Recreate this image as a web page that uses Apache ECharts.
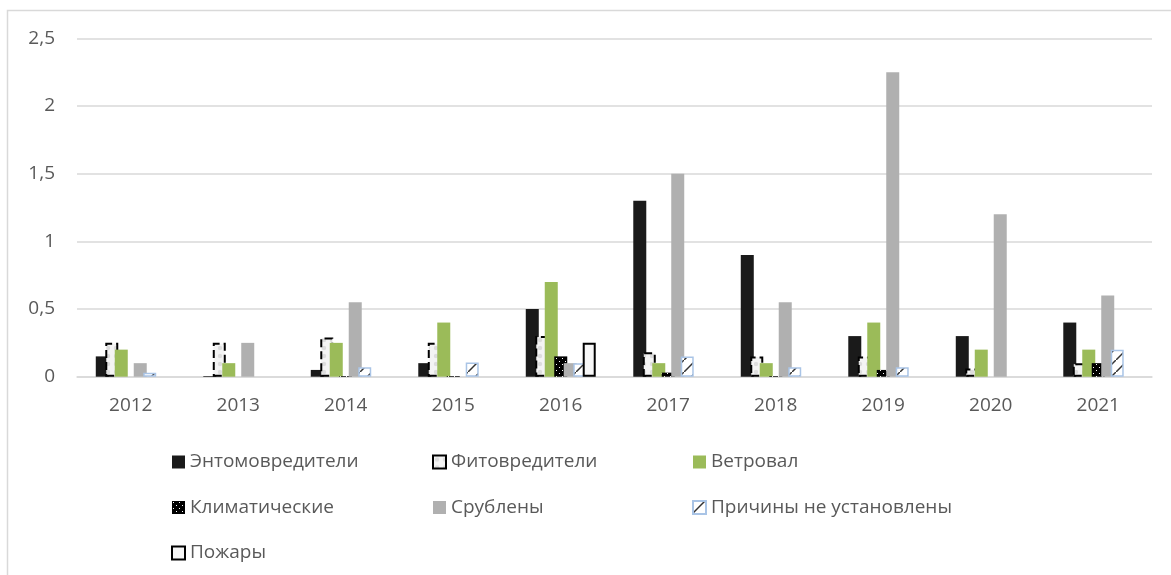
<!DOCTYPE html>
<html><head><meta charset="utf-8">
<script src="https://cdn.jsdelivr.net/npm/echarts@6/dist/echarts.min.js"></script>
<style>html,body{margin:0;padding:0;background:#fff}#c{width:1171px;height:575px}</style>
</head><body><div id="c"></div>
<script>
const categories = ['2012','2013','2014','2015','2016','2017','2018','2019','2020','2021'];
const seriesNames = ['Энтомовредители','Фитовредители','Ветровал','Климатические','Срублены','Причины не установлены','Пожары'];
const entomo   = [0.15, 0.005, 0.05, 0.10, 0.50, 1.30, 0.90, 0.30, 0.30, 0.40];
const fito     = [0.25, 0.25, 0.29, 0.25, 0.30, 0.18, 0.15, 0.15, 0.06, 0.10];
const vetroval = [0.20, 0.10, 0.25, 0.40, 0.70, 0.10, 0.10, 0.40, 0.20, 0.20];
const klimat   = [0, 0, 0.005, 0.005, 0.15, 0.03, 0.005, 0.05, 0, 0.10];
const srubleny = [0.10, 0.25, 0.55, 0, 0.10, 1.50, 0.55, 2.25, 1.20, 0.60];
const prichiny = [0.03, 0, 0.07, 0.105, 0.10, 0.15, 0.07, 0.07, 0, 0.20];
const pozhary  = [0, 0, 0, 0, 0.25, 0, 0, 0, 0, 0];
const yTicks = [0, 0.5, 1, 1.5, 2, 2.5];

function mk(w,h,draw){const c=document.createElement('canvas');c.width=w;c.height=h;draw(c.getContext('2d'));return c;}
const fitoPat = mk(8,8,g=>{g.fillStyle='#f4f4f4';g.fillRect(0,0,8,8);g.fillStyle='#dddddd';g.beginPath();g.arc(4,4,2.2,0,Math.PI*2);g.fill();});
const klimPat = mk(6,6,g=>{g.fillStyle='#000';g.fillRect(0,0,6,6);g.fillStyle='#fff';g.fillRect(1,1,1,1);g.fillRect(4,4,1,1);});
const prichPat = mk(12,12,g=>{g.fillStyle='#fff';g.fillRect(0,0,12,12);g.strokeStyle='#333';g.lineWidth=1.5;g.beginPath();g.moveTo(0,12);g.lineTo(12,0);g.stroke();});

const styles = [
  {color:'#1a1a1a'},
  {color:{image:fitoPat,repeat:'repeat'}, borderColor:'#000', borderWidth:2, borderType:'dashed'},
  {color:'#9bbb59'},
  {color:{image:klimPat,repeat:'repeat'}},
  {color:'#b0b0b0'},
  {color:{image:prichPat,repeat:'repeat'}, borderColor:'#a9c4e6', borderWidth:1.5},
  {color:'#f7f7f7', borderColor:'#000', borderWidth:2}
];
const dataArr = [entomo, fito, vetroval, klimat, srubleny, prichiny, pozhary];

const series = seriesNames.map((n,i)=>({
  name:n, type:'bar', data:dataArr[i].map(v=>v===0?'-':v), barWidth:13, barGap:'-27%',
  itemStyle:styles[i], emphasis:{disabled:true}
}));

const txt = {color:'#595959', fontFamily:'Open Sans', fontSize:19};
function leg(left, names){
  return {orient:'vertical', left:left, top:451, padding:0, itemWidth:13, itemHeight:13, itemGap:23.5,
    icon:'rect', data:names, textStyle:Object.assign({lineHeight:22}, txt), selectedMode:false};
}

const chart = echarts.init(document.getElementById('c'), null, {renderer:'canvas'});
chart.setOption({
  animation:false,
  backgroundColor:'#fff',
  grid:{left:77, right:19, top:38.3, bottom:198.3},
  graphic:[{type:'rect', shape:{x:7.5,y:10.5,width:1200,height:600}, style:{fill:'none',stroke:'#d9d9d9',lineWidth:1.5}, silent:true}],
  xAxis:{type:'category', data:categories, axisTick:{show:false},
    axisLine:{lineStyle:{color:'#d9d9d9', width:1.5}},
    axisLabel:Object.assign({margin:19}, txt)},
  yAxis:{type:'value', min:0, max:2.5, interval:0.5,
    axisLine:{show:false}, axisTick:{show:false},
    splitLine:{lineStyle:{color:'#d9d9d9', width:1.5}},
    axisLabel:Object.assign({margin:22, formatter:v=>String(v).replace('.',',')}, txt)},
  legend:[
    leg(171,[seriesNames[0],seriesNames[3],seriesNames[6]]),
    leg(432,[seriesNames[1],seriesNames[4]]),
    leg(692,[seriesNames[2],seriesNames[5]])
  ],
  series:series
});
</script></body></html>
